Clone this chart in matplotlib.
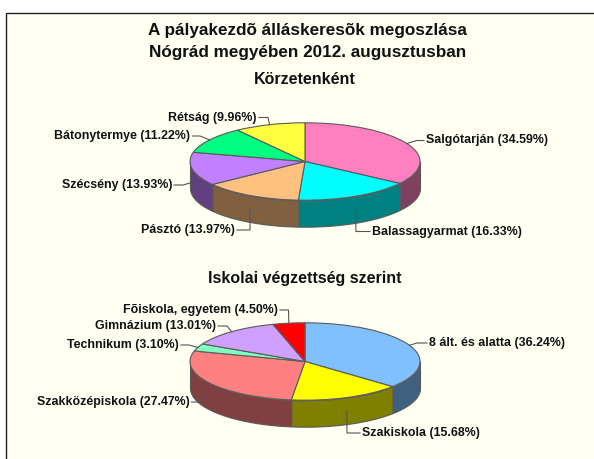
"""Pie charts of young job seekers in Nograd county, August 2012."""
import numpy as np
import matplotlib
matplotlib.use("Agg")
import matplotlib.pyplot as plt
from matplotlib.colors import to_rgb
from matplotlib.patches import Rectangle

# data
district_labels = ["Salgótarján", "Balassagyarmat", "Pásztó", "Szécsény", "Bátonytermye", "Rétság"]
district_values = [34.59, 16.33, 13.97, 13.93, 11.22, 9.96]
school_labels = ["8 ált. és alatta", "Szakiskola", "Szakközépiskola", "Technikum", "Gimnázium",
                 "Fõiskola, egyetem"]
school_values = [36.24, 15.68, 27.47, 3.10, 13.01, 4.50]

district_colors = ["#FF80C0", "#00FFFF", "#FFC080", "#C080FF", "#00FF80", "#FFFF40"]
school_colors = ["#80C0FF", "#FFFF00", "#FF8080", "#80FFC0", "#CFA0FF", "#FF0000"]

# layout, in pixels of the 594x459 picture
W, H = 594, 459
RX, RY, DEPTH = 115, 38.7, 26.5
# label anchor (x, y), alignment, x of the leader elbow
district_layout = [((426, 140.5), "left", 417), ((372, 231.5), "left", 356), ((235, 230), "right", 250),
                   ((172, 185), "right", 183), ((190.5, 136), "right", 200), ((257, 117.5), "right", 268)]
school_layout = [((429, 343), "left", 417), ((362, 433), "left", 347), ((189.5, 402), "right", 199),
                 ((179, 345), "right", 189), ((216, 326), "right", 227), ((278, 310), "right", 288.5)]
EDGE = "#5A5A5A"
BG = "#FFFFF2"

plt.rcParams["font.family"] = ["Liberation Sans", "DejaVu Sans"]
plt.rcParams["font.weight"] = "bold"

fig = plt.figure(figsize=(W / 100, H / 100), dpi=100, facecolor="white")

page = fig.add_axes([0, 0, 1, 1], zorder=0)
page.set_xlim(0, W)
page.set_ylim(H, 0)
page.axis("off")
page.add_patch(Rectangle((5.5, 12.5), W, H, facecolor=BG, edgecolor="#222222", linewidth=1.0))

overlay = fig.add_axes([0, 0, 1, 1], zorder=5)
overlay.set_xlim(0, W)
overlay.set_ylim(H, 0)
overlay.axis("off")


def draw_pie(values, labels, colors, layout, cx, cy):
    """Tilted pie: a flattened ax.pie over side walls, with elbow leaders to the labels."""
    left, right = -1.1, 1.1
    depth = DEPTH / RY
    bottom, top = -1 - depth - 0.1, 1.1
    ax = fig.add_axes([(cx + left * RX) / W, 1 - (cy - bottom * RY) / H,
                       (right - left) * RX / W, (top - bottom) * RY / H], zorder=2)
    ax.pie(values, colors=colors, startangle=90, counterclock=False, radius=1,
           wedgeprops=dict(edgecolor=EDGE, linewidth=0.8))
    ax.set_aspect("auto")
    ax.set_xlim(left, right)
    ax.set_ylim(bottom, top)
    ax.axis("off")

    edges = np.cumsum([0] + list(values)) / sum(values) * 2 * np.pi
    for i in range(len(values)):
        # only the part of the slice facing the viewer has a wall
        a0, a1 = max(edges[i], np.pi / 2), min(edges[i + 1], 3 * np.pi / 2)
        if a1 > a0:
            t = np.linspace(a0, a1, 80)
            wall = tuple(c * 0.5 for c in to_rgb(colors[i]))
            ax.fill_between(np.sin(t), np.cos(t), np.cos(t) - depth, facecolor=wall,
                            edgecolor=EDGE, linewidth=0.8, zorder=0)

        mid = (edges[i] + edges[i + 1]) / 2
        x0 = cx + RX * np.sin(mid)
        y0 = cy - RY * np.cos(mid)
        if np.cos(mid) < 0:
            y0 += DEPTH / 2
        (tx, ty), ha, elbow = layout[i]
        sign = -1 if ha == "left" else 1
        overlay.plot([x0, elbow, tx + sign * 2], [y0, ty, ty], color="#555555", lw=0.8)
        overlay.text(tx, ty, f"{labels[i]} ({values[i]:.2f}%)", ha=ha, va="center",
                     fontsize=8.9, color="#111111")


draw_pie(district_values, district_labels, district_colors, district_layout, 305, 161.5)
draw_pie(school_values, school_labels, school_colors, school_layout, 305, 361.5)

overlay.text(307.5, 31, "A pályakezdõ álláskeresõk megoszlása", ha="center", va="center",
             fontsize=12.3, color="#111111")
overlay.text(307.5, 52, "Nógrád megyében 2012. augusztusban", ha="center", va="center",
             fontsize=12.3, color="#111111")
overlay.text(305, 79, "Körzetenként", ha="center", va="center", fontsize=11.5, color="#111111")
overlay.text(305, 279, "Iskolai végzettség szerint", ha="center", va="center",
             fontsize=11.5, color="#111111")

fig.savefig("out.png", dpi=100, facecolor="white")
